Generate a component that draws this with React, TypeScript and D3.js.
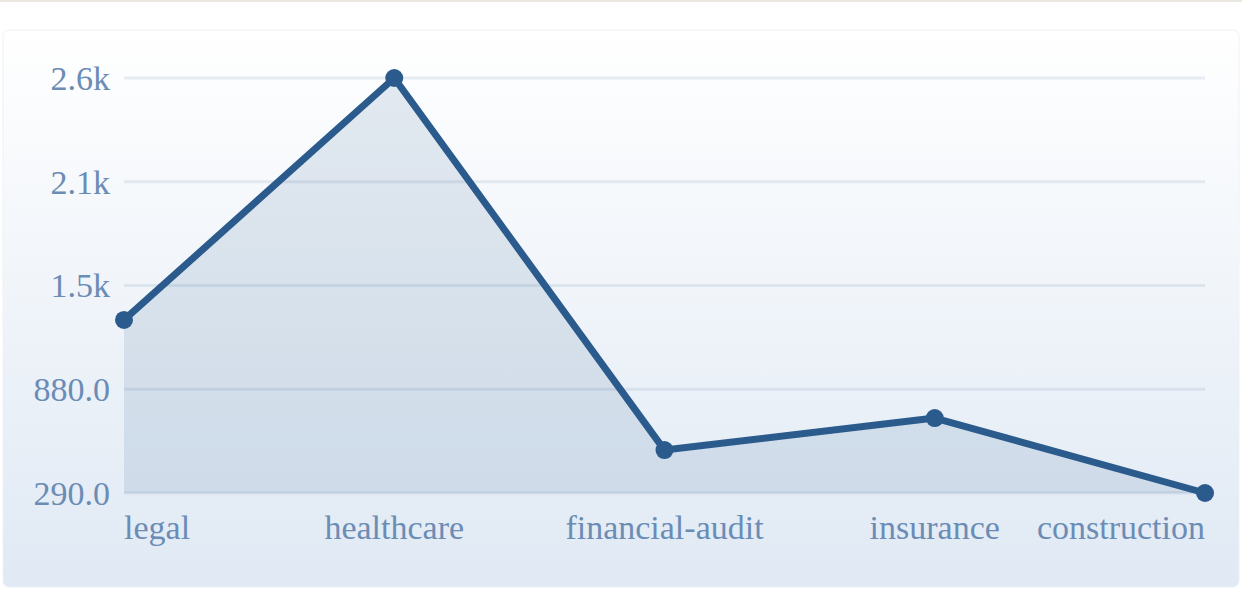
import React from "react";
import * as d3 from "d3";

const categories = ["legal", "healthcare", "financial-audit", "insurance", "construction"];
const values = [1274, 2650, 534, 716, 290];
const tickValues = [290, 880, 1470, 2060, 2650];

const W = 1242;
const H = 589;
const margin = { top: 78, right: 37, bottom: 96, left: 124 };

const fmt = (v: number) => (v >= 1000 ? (v / 1000).toFixed(1) + "k" : v.toFixed(1));

export default function App() {
  const x = d3
    .scalePoint<string>()
    .domain(categories)
    .range([margin.left, W - margin.right]);
  const y = d3
    .scaleLinear()
    .domain([290, 2650])
    .range([H - margin.bottom, margin.top]);

  const pts = categories.map((c, i) => ({ c, v: values[i] }));

  const line = d3
    .line<{ c: string; v: number }>()
    .x((d) => x(d.c)!)
    .y((d) => y(d.v));
  const area = d3
    .area<{ c: string; v: number }>()
    .x((d) => x(d.c)!)
    .y0(y(290))
    .y1((d) => y(d.v));

  const font = "'Liberation Serif', 'Times New Roman', serif";
  const textColor = "#6b8cb5";

  return (
    <svg
      width={W}
      height={H}
      style={{ position: "absolute", left: 0, top: 0 }}
      fontFamily={font}
    >
      <defs>
        <linearGradient id="card" x1="0" y1="0" x2="0" y2="1">
          <stop offset="0%" stopColor="#ffffff" />
          <stop offset="100%" stopColor="#e0e9f4" />
        </linearGradient>
      </defs>
      <rect x={0} y={0} width={W} height={H} fill="#ffffff" />
      <rect x={0} y={0} width={W} height={2} fill="#e9e7e0" />
      <rect
        x={3}
        y={30}
        width={W - 6}
        height={H - 32}
        rx={6}
        fill="url(#card)"
        stroke="#eef1f5"
        strokeWidth={1}
      />

      {tickValues.map((t) => (
        <g key={t}>
          <line
            x1={margin.left}
            x2={W - margin.right}
            y1={y(t)}
            y2={y(t)}
            stroke="rgba(42,91,140,0.1)"
            strokeWidth={3}
          />
          <text
            x={margin.left - 14}
            y={y(t)}
            dy="0.35em"
            textAnchor="end"
            fontSize={34}
            fill={textColor}
          >
            {fmt(t)}
          </text>
        </g>
      ))}

      <path d={area(pts)!} fill="#2a5b8c" fillOpacity={0.12} />
      <path
        d={line(pts)!}
        fill="none"
        stroke="#2a5b8c"
        strokeWidth={7}
        strokeLinejoin="round"
      />
      {pts.map((d) => (
        <circle key={d.c} cx={x(d.c)} cy={y(d.v)} r={9} fill="#2a5b8c" />
      ))}

      {categories.map((c, i) => (
        <text
          key={c}
          x={x(c)}
          y={539}
          textAnchor={i === 0 ? "start" : i === categories.length - 1 ? "end" : "middle"}
          fontSize={34}
          fill={textColor}
        >
          {c}
        </text>
      ))}
    </svg>
  );
}
